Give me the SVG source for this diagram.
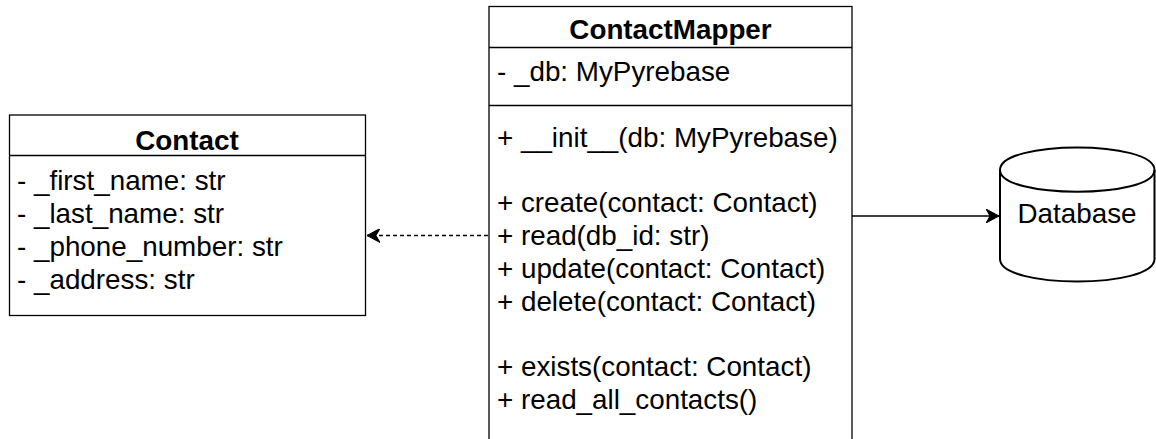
<svg xmlns="http://www.w3.org/2000/svg" width="1156" height="439" viewBox="0 0 1156 439">
<defs>
<style>
.box{fill:#fff;stroke:#000;stroke-width:1.3}
.ln{stroke:#000;stroke-width:1.3;fill:none}
.t{font-family:"Liberation Sans",Arial,Helvetica,sans-serif;font-size:27.8px;fill:#000}
.b{font-weight:bold}
.c{text-anchor:middle}
</style>
<marker id="arr" viewBox="0 0 14 14" refX="13" refY="7" markerWidth="14" markerHeight="14" markerUnits="userSpaceOnUse" orient="auto">
<path d="M0,0 L13,7 L0,14 L4,7 Z" fill="#000" stroke="#000" stroke-width="1"/>
</marker>
</defs>
<rect width="1156" height="439" fill="#fff"/>
<g id="contact">
<rect class="box" x="9.5" y="115" width="356" height="200.5"/>
<line class="ln" x1="9.5" y1="155.5" x2="365.5" y2="155.5"/>
<text class="t b c" x="187" y="150">Contact</text>
<text class="t" x="17" y="190">- _first_name: str</text>
<text class="t" x="17" y="223">- _last_name: str</text>
<text class="t" x="17" y="256">- _phone_number: str</text>
<text class="t" x="17" y="289">- _address: str</text>
</g>
<g id="contactmapper">
<rect class="box" x="489" y="6.5" width="363" height="450"/>
<line class="ln" x1="489" y1="47.5" x2="852" y2="47.5"/>
<line class="ln" x1="489" y1="105.5" x2="852" y2="105.5"/>
<text class="t b c" x="670.5" y="39">ContactMapper</text>
<text class="t" x="497" y="81">- _db: MyPyrebase</text>
<text class="t" x="497" y="146.5">+ __init__(db: MyPyrebase)</text>
<text class="t" x="497" y="212">+ create(contact: Contact)</text>
<text class="t" x="497" y="244.5">+ read(db_id: str)</text>
<text class="t" x="497" y="277.5">+ update(contact: Contact)</text>
<text class="t" x="497" y="310.5">+ delete(contact: Contact)</text>
<text class="t" x="497" y="375.5">+ exists(contact: Contact)</text>
<text class="t" x="497" y="408.5">+ read_all_contacts()</text>
</g>
<g id="database">
<path d="M1000,170 C1000,140 1154.5,140 1154.5,170 L1154.5,259 C1154.5,289 1000,289 1000,259 Z" fill="#fff" stroke="#000" stroke-width="2"/>
<path d="M1000,170 C1000,199 1154.5,199 1154.5,170" fill="none" stroke="#000" stroke-width="2"/>
<text class="t c" x="1077" y="223">Database</text>
</g>
<g id="connectors">
<line class="ln" x1="852" y1="216" x2="999" y2="216" marker-end="url(#arr)"/>
<line class="ln" x1="488" y1="235.5" x2="367" y2="235.5" stroke-dasharray="4 3" marker-end="url(#arr)"/>
</g>
</svg>
